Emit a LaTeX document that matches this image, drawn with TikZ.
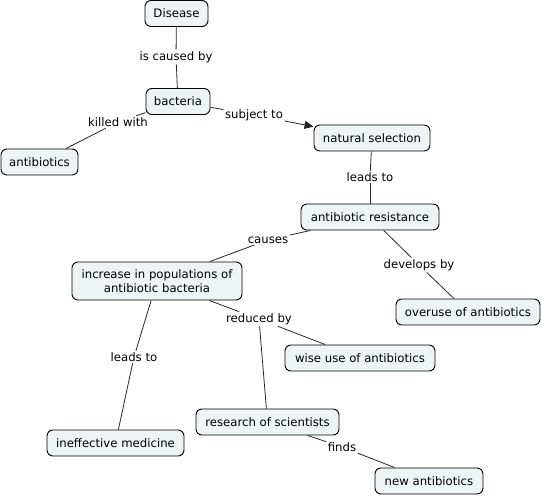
\documentclass[tikz,border=0pt]{standalone}
\usepackage{fontspec}
\setmainfont{DejaVu Sans}
\usetikzlibrary{arrows.meta}
\definecolor{cfill}{HTML}{EEF3F5}
\tikzset{
  concept/.style={draw=black, fill=cfill, rounded corners=6pt, line width=0.9pt,
    minimum height=26pt, inner xsep=8pt, inner ysep=3pt, align=center,
    font=\fontsize{11.7}{14}\selectfont},
  lbl/.style={inner sep=1.5pt, font=\fontsize{11.7}{14}\selectfont},
  link/.style={draw=black!85, line width=0.8pt},
}
\begin{document}
\begin{tikzpicture}[x=1pt,y=-1pt]
\useasboundingbox (0,0) rectangle (542,497);
% concepts
\node[concept, minimum width=63pt] (dis) at (176.5,13.5) {Disease};
\node[concept, minimum width=64pt] (bac) at (178,101.5) {bacteria};
\node[concept, minimum width=77pt] (ab) at (39.5,162) {antibiotics};
\node[concept, minimum width=116pt] (ns) at (372,138) {natural selection};
\node[concept, minimum width=138pt] (ar) at (370,217) {antibiotic resistance};
\node[concept, minimum width=170pt, minimum height=38pt] (inc) at (157,281) {increase in populations of\\antibiotic bacteria};
\node[concept, minimum width=144pt] (ov) at (468,312) {overuse of antibiotics};
\node[concept, minimum width=150pt] (wu) at (360,358) {wise use of antibiotics};
\node[concept, minimum width=143pt] (rs) at (267.5,422) {research of scientists};
\node[concept, minimum width=137pt] (im) at (115.5,443) {ineffective medicine};
\node[concept, minimum width=108pt] (na) at (429,481) {new antibiotics};
% linking phrases
\node[lbl] (l1) at (176,57) {is caused by};
\node[lbl] (l2) at (118,122) {killed with};
\node[lbl] (l3) at (254,115) {subject to};
\node[lbl] (l4) at (370,177) {leads to};
\node[lbl] (l5) at (268,240) {causes};
\node[lbl] (l6) at (419,265) {develops by};
\node[lbl] (l7) at (259,319) {reduced by};
\node[lbl] (l8) at (134,357) {leads to};
\node[lbl] (l9) at (342,447) {finds};
% connectors
\path[link] (dis) -- (l1);
\path[link] (l1) -- (bac);
\path[link] (bac) -- (l2);
\path[link] (l2) -- (ab);
\path[link] (bac) -- (l3);
\path[link, -{Triangle[length=9pt,width=8pt]}] (l3) -- (ns);
\path[link] (ns) -- (l4);
\path[link] (l4) -- (ar);
\path[link] (ar) -- (l5);
\path[link] (l5) -- (inc);
\path[link] (ar) -- (l6);
\path[link] (l6) -- (ov);
\path[link] (inc) -- (l7);
\path[link] (l7) -- (wu);
\path[link] (l7) -- (rs);
\path[link] (inc) -- (l8);
\path[link] (l8) -- (im);
\path[link] (rs) -- (l9);
\path[link] (l9) -- (na);
\end{tikzpicture}
\end{document}
